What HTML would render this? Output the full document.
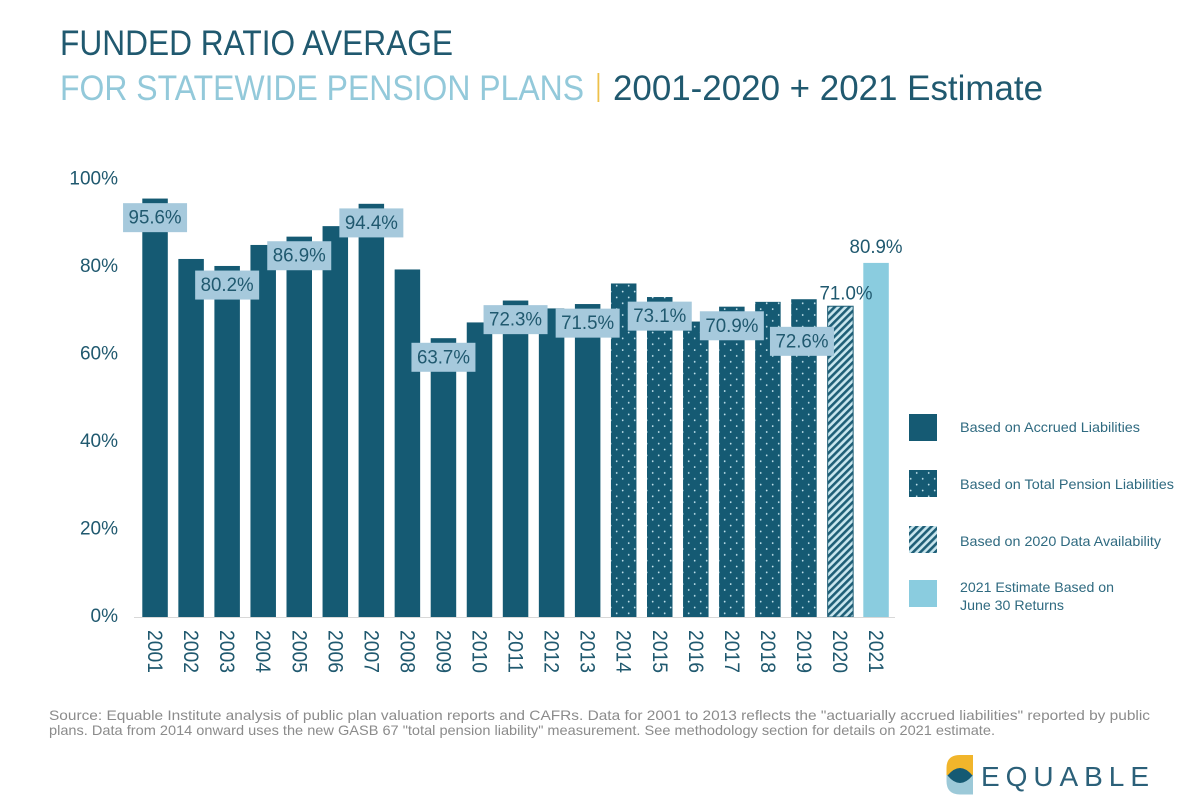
<!DOCTYPE html>
<html lang="en">
<head>
<meta charset="utf-8">
<title>Funded Ratio Average for Statewide Pension Plans</title>
<style>
html,body{margin:0;padding:0;background:#fff;}
svg{display:block;}
text{font-family:"Liberation Sans",sans-serif;}
</style>
</head>
<body>
<svg id="chart" xmlns="http://www.w3.org/2000/svg" width="1200" height="800" viewBox="0 0 1200 800">
  <defs>
    <pattern id="dots" patternUnits="userSpaceOnUse" width="12" height="11.7">
      <rect width="12" height="11.7" fill="#155a73"/>
      <circle cx="4.7" cy="4.9" r="0.9" fill="#c4e4ee"/>
      <circle cx="10.7" cy="10.75" r="0.9" fill="#c4e4ee"/>
    </pattern>
    <pattern id="hatch" patternUnits="userSpaceOnUse" width="5.2" height="5.2" patternTransform="rotate(45)">
      <rect width="5.2" height="5.2" fill="#c9e6ee"/>
      <rect width="2.6" height="5.2" fill="#1f5f77"/>
    </pattern>
  </defs>
  <rect width="1200" height="800" fill="#ffffff"/>

  <text x="60" y="55" font-size="35" fill="#20596f" textLength="393" lengthAdjust="spacingAndGlyphs">FUNDED RATIO AVERAGE</text>
  <text x="60" y="100" font-size="35" fill="#93c9da" textLength="524" lengthAdjust="spacingAndGlyphs">FOR STATEWIDE PENSION PLANS</text>
  <rect x="597.500" y="73" width="1.800" height="29" fill="#eec04a"/>
  <text x="613" y="100" font-size="35" fill="#20596f" textLength="430" lengthAdjust="spacingAndGlyphs">2001-2020 + 2021 Estimate</text>

  <g id="y-axis"></g>
  <g id="bars"></g>
  <line x1="134" y1="617.5" x2="895" y2="617.5" stroke="#d8d8d8" stroke-width="1"/>
  <g id="x-axis"></g>
  <g id="labels"></g>

  <g>
    <g>
      <rect x="909" y="414" width="28" height="27" fill="#155a73"/>
      <text x="960" y="432" font-size="14" fill="#2f6a80" textLength="180" lengthAdjust="spacingAndGlyphs">Based on Accrued Liabilities</text>
    </g>
    <g>
      <rect x="909" y="470" width="28" height="27" fill="url(#dots)"/>
      <text x="960" y="489" font-size="14" fill="#2f6a80" textLength="214" lengthAdjust="spacingAndGlyphs">Based on Total Pension Liabilities</text>
    </g>
    <g>
      <rect x="909" y="526" width="28" height="27" fill="url(#hatch)"/>
      <text x="960" y="546" font-size="14" fill="#2f6a80" textLength="201" lengthAdjust="spacingAndGlyphs">Based on 2020 Data Availability</text>
    </g>
    <g>
      <rect x="909" y="580" width="28" height="27" fill="#8accdf"/>
      <text x="960" y="592" font-size="14" fill="#2f6a80" textLength="154" lengthAdjust="spacingAndGlyphs">2021 Estimate Based on</text>
      <text x="960" y="610" font-size="14" fill="#2f6a80" textLength="104" lengthAdjust="spacingAndGlyphs">June 30 Returns</text>
    </g>
  </g>

  <text x="49" y="720" font-size="14" fill="#8b8b8b" textLength="1101" lengthAdjust="spacingAndGlyphs">Source: Equable Institute analysis of public plan valuation reports and CAFRs. Data for 2001 to 2013 reflects the "actuarially accrued liabilities" reported by public</text>
  <text x="49" y="735" font-size="14" fill="#8b8b8b" textLength="946" lengthAdjust="spacingAndGlyphs">plans. Data from 2014 onward uses the new GASB 67 "total pension liability" measurement. See methodology section for details on 2021 estimate.</text>

  <g>
    <path d="M973 755V775H946.500V768Q946.500 755 960 755Z" fill="#f1b52b"/>
    <path d="M973 794.500V775H946.500V781Q946.500 794.500 960 794.500Z" fill="#9cc9d8"/>
    <path d="M947.500 775.500Q960 760.500 972.500 775.500Q960 790.500 947.500 775.500Z" fill="#155a73"/>
    <text x="981" y="786" font-size="28" fill="#2b6079" textLength="168" lengthAdjust="spacing">EQUABLE</text>
  </g>
</svg>
<script>
const years = [2001,2002,2003,2004,2005,2006,2007,2008,2009,2010,2011,2012,2013,2014,2015,2016,2017,2018,2019,2020,2021];
const values = [95.6,81.8,80.2,85.0,86.9,89.3,94.4,79.4,63.7,67.3,72.3,70.5,71.5,76.2,73.1,67.5,70.9,72.0,72.6,71.0,80.9];
const boxedLabelYears = [2001,2003,2005,2007,2009,2011,2013,2015,2017,2019];
const plainLabelYears = [2020,2021];
const yTicks = [0,20,40,60,80,100];

const NS = 'http://www.w3.org/2000/svg';
const DARK = '#155a73';
const LIGHT = '#8accdf';
const INK = '#20596f';

function yScale(v) { return 617 - v * 4.377; }
function xLeft(year) { return 142.3 + (year - 2001) * 36.05; }
function xCenter(year) { return xLeft(year) + 12.75; }
function valueOf(year) { return values[years.indexOf(year)]; }
function printed(year) { return valueOf(year).toFixed(1) + '%'; }
function make(tag, parent, props) {
  const el = document.createElementNS(NS, tag);
  Object.keys(props).forEach(function (k) { el.setAttribute(k, props[k]); });
  parent.appendChild(el);
  return el;
}

const yAxis = document.getElementById('y-axis');
yTicks.forEach(function (t) {
  const el = make('text', yAxis, {x: 118, y: yScale(t) + 5, 'font-size': 19, fill: INK, 'text-anchor': 'end'});
  
  
  el.textContent = t + '%';
});

const barLayer = document.getElementById('bars');
years.forEach(function (year, i) {
  const v = values[i];
  let fill = DARK;
  if (year > 2013) fill = 'url(#dots)';
  if (year === 2020) fill = 'url(#hatch)';
  if (year === 2021) fill = LIGHT;
  const props = {x: xLeft(year), y: yScale(v), width: 25.5, height: 617 - yScale(v), fill: fill};
  if (year === 2020) {
    props.stroke = '#1f5f77';
    props.x = xLeft(year) + 0.4;
  }
  const bar = make('rect', barLayer, props);
  
  
});

const xAxis = document.getElementById('x-axis');
years.forEach(function (year) {
  const bx = xCenter(year) - 7;
  const el = make('text', xAxis, {x: 0, y: 0, 'font-size': 21, fill: INK, textLength: 43, lengthAdjust: 'spacingAndGlyphs', transform: 'translate(' + bx + ' 630) rotate(90)'});
  
  
  el.textContent = year;
});

const labelLayer = document.getElementById('labels');
boxedLabelYears.forEach(function (year) {
  let cx = xCenter(year);
  let top = yScale(valueOf(year)) + 4.6;
  if (year === 2019) {
    cx -= 2;
    top += 23;
  }
  const box = make('rect', labelLayer, {x: cx - 32, y: top, width: 64, height: 29, fill: '#a6c9dc'});
  
  
  const txt = make('text', labelLayer, {x: cx, y: top + 20.5, 'font-size': 19, fill: INK, 'text-anchor': 'middle', textLength: 53, lengthAdjust: 'spacingAndGlyphs'});
  
  
  txt.textContent = printed(year);
});
plainLabelYears.forEach(function (year) {
  const gap = year === 2020 ? 6.7 : 10;
  const txt = make('text', labelLayer, {x: xCenter(year) + (year === 2020 ? 6 : 0), y: yScale(valueOf(year)) - gap, 'font-size': 19, fill: INK, 'text-anchor': 'middle', textLength: 53, lengthAdjust: 'spacingAndGlyphs'});
  
  
  txt.textContent = printed(year);
});
</script>
</body>
</html>
